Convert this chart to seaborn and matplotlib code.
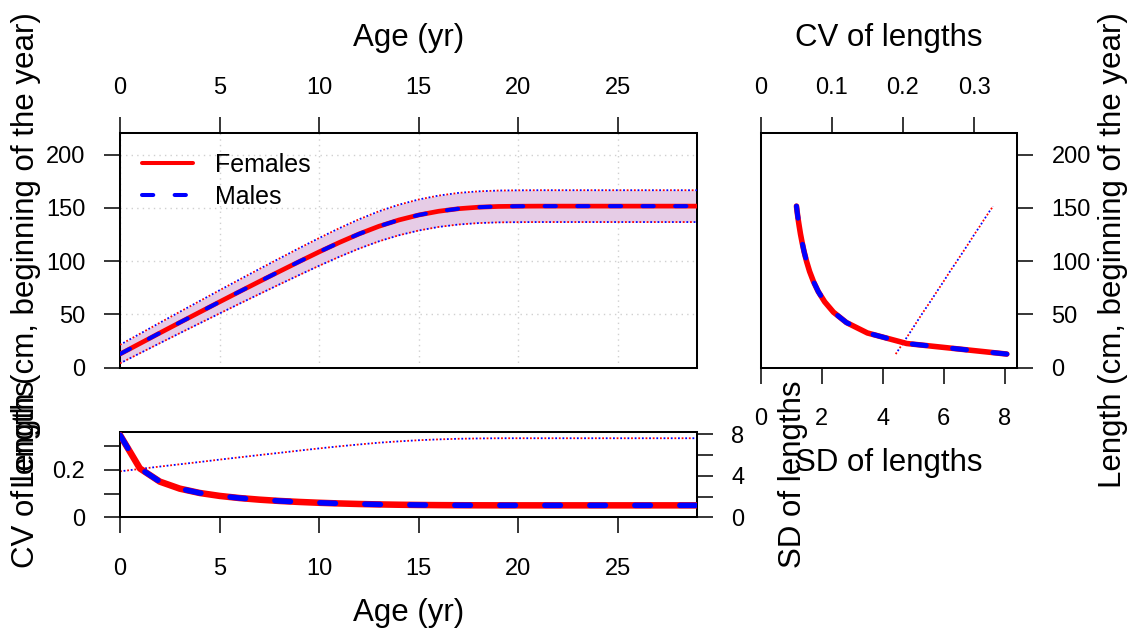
import numpy as np
import pandas as pd
import matplotlib
matplotlib.use("Agg")
import matplotlib.pyplot as plt
import seaborn as sns
from matplotlib.lines import Line2D

# ---------------- data ----------------
ages = list(range(0, 30))
len_f = [12.8, 22.7, 32.6, 42.4, 52.1, 61.8, 71.4, 80.9, 90.3, 99.6,
         108.7, 117.4, 125.5, 132.7, 138.6, 143.3, 146.8, 149.2, 150.6, 151.3,
         151.5, 151.6, 151.6, 151.6, 151.6, 151.6, 151.6, 151.6, 151.6, 151.6]
sd_f = [4.43, 4.66, 4.89, 5.11, 5.33, 5.56, 5.78, 6.00, 6.21, 6.43,
        6.64, 6.84, 7.02, 7.19, 7.32, 7.43, 7.51, 7.57, 7.60, 7.62,
        7.62, 7.62, 7.62, 7.62, 7.62, 7.62, 7.62, 7.62, 7.62, 7.62]
len_m = [12.8, 22.7, 32.6, 42.4, 52.1, 61.8, 71.4, 80.9, 90.3, 99.6,
         108.7, 117.4, 125.5, 132.7, 138.6, 143.3, 146.8, 149.2, 150.6, 151.3,
         151.5, 151.6, 151.6, 151.6, 151.6, 151.6, 151.6, 151.6, 151.6, 151.6]
sd_m = [4.43, 4.66, 4.89, 5.11, 5.33, 5.56, 5.78, 6.00, 6.21, 6.43,
        6.64, 6.84, 7.02, 7.19, 7.32, 7.43, 7.51, 7.57, 7.60, 7.62,
        7.62, 7.62, 7.62, 7.62, 7.62, 7.62, 7.62, 7.62, 7.62, 7.62]
sex_labels = ["Females", "Males"]
age_ticks = [0, 5, 10, 15, 20, 25]
len_ticks = [0, 50, 100, 150, 200]
cv_ticks = [0, 0.1, 0.2, 0.3]
sd_ticks = [0, 2, 4, 6, 8]

df = pd.DataFrame({"age": ages, "len_f": len_f, "sd_f": sd_f,
                   "len_m": len_m, "sd_m": sd_m})
for s in ("f", "m"):
    df["cv_" + s] = df["sd_" + s] / df["len_" + s]
    df["hi_" + s] = df["len_" + s] + 1.96 * df["sd_" + s]
    df["lo_" + s] = df["len_" + s] - 1.96 * df["sd_" + s]

# ---------------- style ----------------
sns.set_theme(style="white")
plt.rcParams['font.family'] = ['Liberation Sans', 'DejaVu Sans']
plt.rcParams['axes.linewidth'] = 1.45
plt.rcParams['axes.edgecolor'] = 'black'
plt.rcParams['xtick.color'] = 'black'
plt.rcParams['ytick.color'] = 'black'
plt.rcParams['xtick.labelcolor'] = 'black'
plt.rcParams['ytick.labelcolor'] = 'black'
plt.rcParams['text.color'] = 'black'

W, H = 1134, 632
fig = plt.figure(figsize=(W / 100, H / 100), dpi=100)


def rect(l, t, r, b):
    return [l / W, 1 - b / H, (r - l) / W, (b - t) / H]


def fx(px):
    return px / W


def fy(py):
    return 1 - py / H


RED = "#FF0000"
BLUE = "#0000FF"
FILL = "#E6CCE6"
TICK_FS = 17
LAB_FS = 22.5
DASH = (2.8, 5.3)
DOT = (1.0, 3.0)
DOT_LW = 1.3

XMAX = 28.95
LMAX = 220.5
CVMAX = 0.36
SDMAX_B = 8.25
SDMAX_R = 8.4

ax_m = fig.add_axes(rect(120, 132.7, 696.7, 367.7))
ax_r = fig.add_axes(rect(760.7, 132.7, 1016.7, 367.7))
ax_rt = ax_r.twiny()
ax_b = fig.add_axes(rect(120, 431.7, 696.7, 517.3))
ax_b2 = ax_b.twinx()


def styled_line(ax, x, y, color, lw, dashes=None, offset=0, sort=True, z=3,
                cap="round"):
    n0 = len(ax.lines)
    sns.lineplot(x=list(x), y=list(y), ax=ax, color=color, linewidth=lw,
                 estimator=None, sort=sort, zorder=z)
    ln = ax.lines[n0]
    if dashes is not None:
        ln.set_linestyle((offset, dashes))
        ln.set_dash_capstyle(cap)
    ln.set_solid_capstyle(cap)
    return ln


def tick_style(ax, axis, pad, **kw):
    ax.tick_params(axis=axis, length=11.5, width=1.1, pad=pad,
                   labelsize=TICK_FS, direction="out", color="black",
                   labelcolor="black", **kw)


# ---------------- main panel: length at age ----------------
ax_m.grid(True, color="#D0D0D0", linestyle=(0, (1, 3)), linewidth=1.0)
ax_m.fill_between(df["age"], df["lo_f"], df["hi_f"], color=FILL, lw=0, zorder=1)
for s, col, off in (("f", RED, 0), ("m", BLUE, 2)):
    styled_line(ax_m, df["age"], df["hi_" + s], col, DOT_LW, DOT, off, cap="butt")
    styled_line(ax_m, df["age"], df["lo_" + s], col, DOT_LW, DOT, off, cap="butt")
styled_line(ax_m, df["age"], df["len_f"], RED, 3.4, z=4)
styled_line(ax_m, df["age"], df["len_m"], BLUE, 2.9, DASH, z=5)
ax_m.set_xlim(0, XMAX)
ax_m.set_ylim(0, LMAX)
ax_m.set_xticks(age_ticks)
ax_m.set_yticks(len_ticks)
ax_m.set_xticklabels([str(a) for a in age_ticks])
ax_m.set_yticklabels([str(v) for v in len_ticks])
ax_m.xaxis.tick_top()
tick_style(ax_m, "x", 12.5, top=True, bottom=False, labeltop=True,
           labelbottom=False)
tick_style(ax_m, "y", 13.5, left=True, right=False)
ax_m.set_xlabel("")
ax_m.set_ylabel("")
hand = [Line2D([0], [0], color=RED, lw=2.9, solid_capstyle="round"),
        Line2D([0], [0], color=BLUE, lw=2.9, linestyle=(0, DASH),
               dash_capstyle="round")]
ax_m.legend(hand, sex_labels, loc="upper left",
            bbox_to_anchor=(fx(141.7), fy(153)), bbox_transform=fig.transFigure,
            frameon=False, fontsize=18, handlelength=2.05, handletextpad=0.9,
            labelspacing=0.3, borderpad=0, borderaxespad=0)

# ---------------- right panel: CV & SD vs length ----------------
styled_line(ax_r, df["sd_f"], df["len_f"], RED, DOT_LW, DOT, 0, sort=False, cap="butt")
styled_line(ax_r, df["sd_m"], df["len_m"], BLUE, DOT_LW, DOT, 2, sort=False, cap="butt")
styled_line(ax_rt, df["cv_f"], df["len_f"], RED, 4.0, sort=False, z=4)
styled_line(ax_rt, df["cv_m"], df["len_m"], BLUE, 3.6, DASH, sort=False, z=5)
ax_r.set_xlim(0, SDMAX_R)
ax_rt.set_xlim(0, CVMAX)
ax_r.set_ylim(0, LMAX)
ax_r.set_xticks(sd_ticks)
ax_r.set_xticklabels([str(v) for v in sd_ticks])
ax_rt.set_xticks(cv_ticks)
ax_rt.set_xticklabels(["0", "0.1", "0.2", "0.3"])
ax_r.set_yticks(len_ticks)
ax_r.set_yticklabels([str(v) for v in len_ticks])
ax_r.yaxis.tick_right()
tick_style(ax_r, "x", 17.3, bottom=True, top=False)
tick_style(ax_r, "y", 13.5, right=True, left=False, labelright=True,
           labelleft=False)
tick_style(ax_rt, "x", 12.5, top=True, bottom=False)
for a in (ax_r, ax_rt):
    a.set_xlabel("")
    a.set_ylabel("")
for sp in ax_rt.spines.values():
    sp.set_visible(False)

# ---------------- bottom panel: CV & SD vs age ----------------
styled_line(ax_b2, df["age"], df["sd_f"], RED, DOT_LW, DOT, 0, cap="butt")
styled_line(ax_b2, df["age"], df["sd_m"], BLUE, DOT_LW, DOT, 2, cap="butt")
styled_line(ax_b, df["age"], df["cv_f"], RED, 4.7, z=4)
styled_line(ax_b, df["age"], df["cv_m"], BLUE, 4.0, DASH, z=5)
ax_b.set_zorder(ax_b2.get_zorder() + 1)
ax_b.patch.set_visible(False)
ax_b.set_xlim(0, XMAX)
ax_b.set_ylim(0, CVMAX)
ax_b2.set_ylim(0, SDMAX_B)
ax_b.set_xticks(age_ticks)
ax_b.set_xticklabels([str(a) for a in age_ticks])
ax_b.set_yticks(cv_ticks)
ax_b.set_yticklabels(["0", "", "0.2", ""])
ax_b2.set_yticks(sd_ticks)
ax_b2.set_yticklabels(["0", "", "4", "", "8"])
tick_style(ax_b, "x", 17.5, bottom=True, top=False)
tick_style(ax_b, "y", 13.5, left=True, right=False)
tick_style(ax_b2, "y", 13.5, right=True, left=False)
for a in (ax_b, ax_b2):
    a.set_xlabel("")
    a.set_ylabel("")
for sp in ax_b2.spines.values():
    sp.set_visible(False)

# ---------------- axis titles ----------------
txt = dict(fontsize=LAB_FS, color="black")
fig.text(fx(408.3), fy(45.7), "Age (yr)", ha="center", va="baseline", **txt)
fig.text(fx(888.7), fy(45.7), "CV of lengths", ha="center", va="baseline", **txt)
fig.text(fx(408.3), fy(621), "Age (yr)", ha="center", va="baseline", **txt)
fig.text(fx(888.7), fy(471), "SD of lengths", ha="center", va="baseline", **txt)
fig.text(fx(34), fy(250.2), "Length (cm, beginning of the year)", rotation=90,
         rotation_mode="anchor", ha="center", va="baseline", **txt)
fig.text(fx(34), fy(474.5), "CV of lengths", rotation=90,
         rotation_mode="anchor", ha="center", va="baseline", **txt)
fig.text(fx(778), fy(474.5), "SD of lengths", rotation=90,
         rotation_mode="anchor", ha="center", va="top", **txt)
fig.text(fx(1098), fy(250.2), "Length (cm, beginning of the year)", rotation=90,
         rotation_mode="anchor", ha="center", va="top", **txt)

fig.savefig("out.png", dpi=100)
